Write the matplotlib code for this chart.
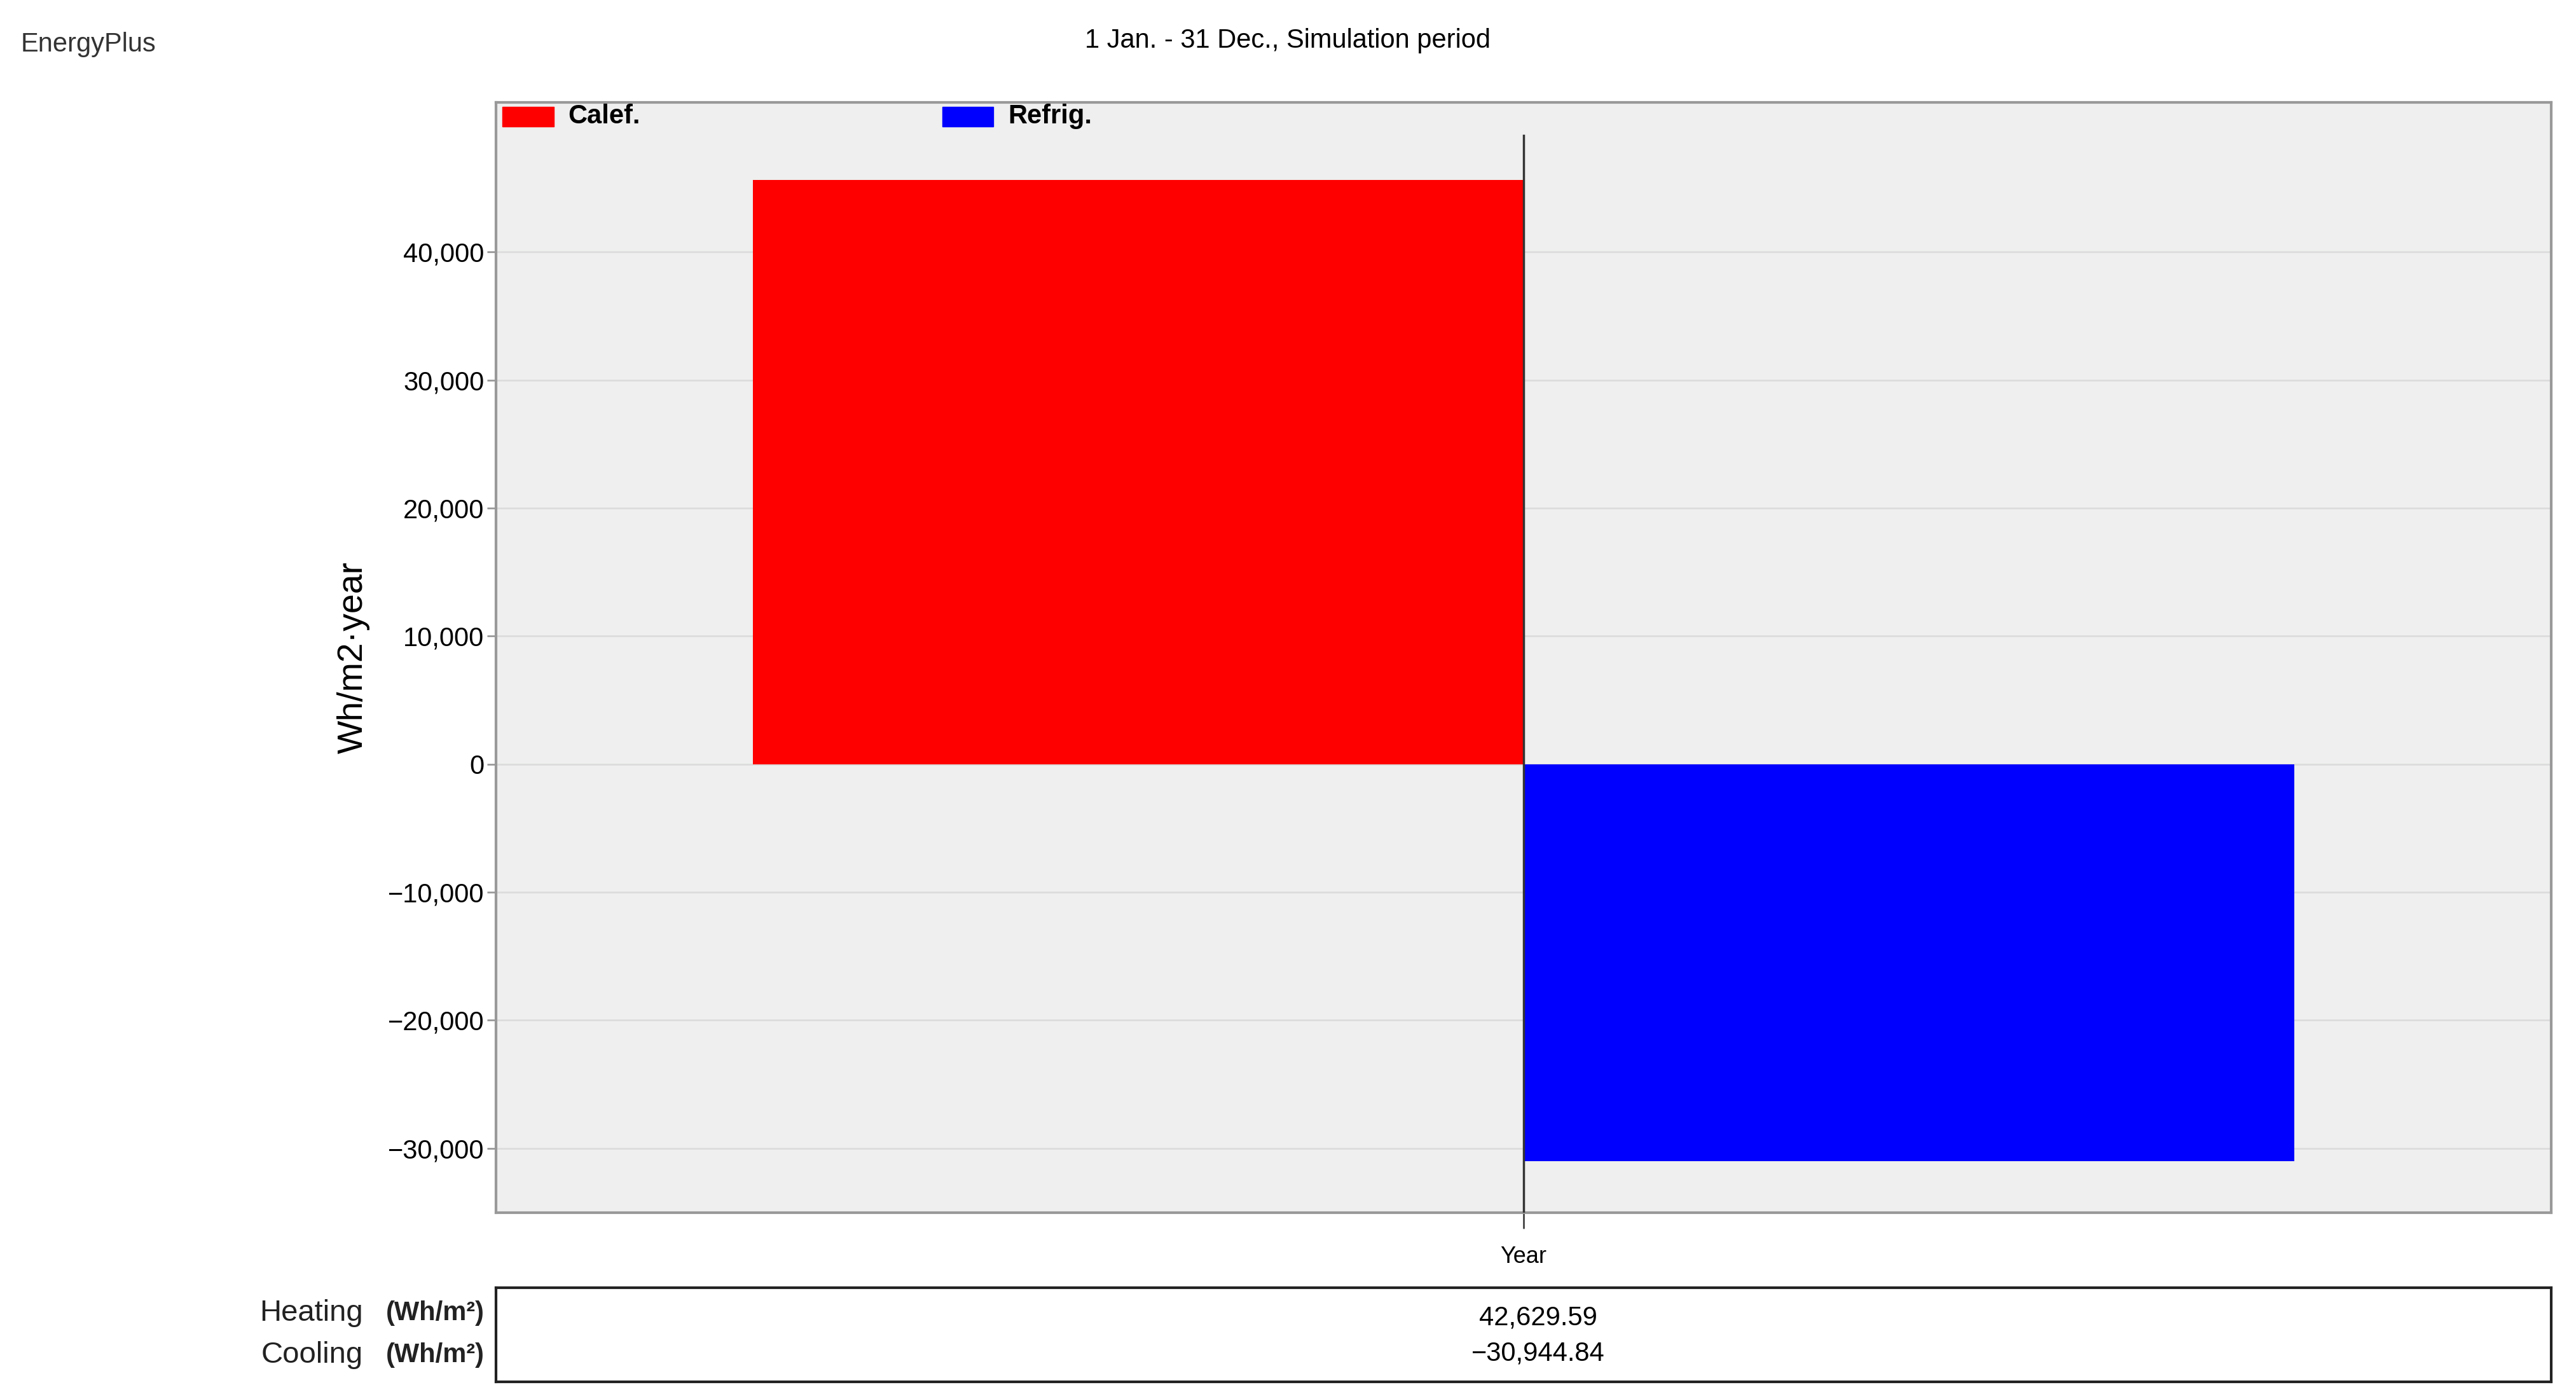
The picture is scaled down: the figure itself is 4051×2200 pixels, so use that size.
import matplotlib
matplotlib.use("Agg")
import matplotlib.pyplot as plt
from matplotlib.patches import Rectangle

categories = ["Year"]
series_names = ["Calef.", "Refrig."]
series_values = [45600, -31000]
series_colors = ["#ff0000", "#0000ff"]
yticks = [-30000, -20000, -10000, 0, 10000, 20000, 30000, 40000]
table_labels = ["Heating", "Cooling"]
table_units = ["(Wh/m²)", "(Wh/m²)"]
table_values = ["42,629.59", "\u221230,944.84"]

plt.rcParams['font.family'] = ['Liberation Sans', 'DejaVu Sans']
fig = plt.figure(figsize=(40.51, 22), dpi=100)
ax = fig.add_axes([0.1926, 0.1334, 0.7978, 0.7936])
ax.set_facecolor("#eeefee")
ax.set_xlim(-1, 1)
ax.set_ylim(-35000, 51700)
ax.bar([-0.375, 0.375], series_values, width=0.75, color=series_colors, zorder=3)
ax.set_yticks(yticks)
ax.set_yticklabels([f"{v:,}".replace("-", "\u2212") for v in yticks], fontsize=30)
ax.grid(axis='y', color="#dcdcdc", lw=2, zorder=0)
ax.set_xticks([0])
ax.set_xticklabels(categories, fontsize=26)
ax.tick_params(axis='x', length=18, width=2, color="#444444", pad=20)
ax.tick_params(axis='y', length=10, width=2, color="#999999")
ax.axvline(0, ymin=0, ymax=0.97, color="#333333", lw=2.5, zorder=4)
for s in ax.spines.values():
    s.set_color("#999999"); s.set_linewidth(3)
ax.set_ylabel("Wh/m2·year", fontsize=40, labelpad=20)

# legend
for i, (n, c) in enumerate(zip(series_names, series_colors)):
    x0 = 0.003 + i * 0.214
    ax.add_patch(Rectangle((x0, 0.978), 0.025, 0.018, transform=ax.transAxes, color=c, clip_on=False, zorder=5))
    ax.text(x0 + 0.032, 0.987, n, transform=ax.transAxes, fontsize=30, va='center', ha='left', fontweight='bold')

fig.text(0.008, 0.968, "EnergyPlus", fontsize=30, ha='left', va='center', color="#333333")
fig.text(0.5, 0.971, "1 Jan. - 31 Dec., Simulation period", fontsize=30, ha='center', va='center')

# table
tax = fig.add_axes([0.1926, 0.0124, 0.7978, 0.067])
tax.set_xticks([]); tax.set_yticks([])
for s in tax.spines.values():
    s.set_color("#222222"); s.set_linewidth(3)
for i, (lab, u, v) in enumerate(zip(table_labels, table_units, table_values)):
    y = 0.68 - i * 0.38
    tax.text(0.507, y, v, transform=tax.transAxes, fontsize=30, ha='center', va='center')
    fig.text(0.141, 0.0124 + 0.067 * (0.73 - i * 0.45), lab, fontsize=34, ha='right', va='center', color="#222222")
    fig.text(0.188, 0.0124 + 0.067 * (0.73 - i * 0.45), u, fontsize=30, ha='right', va='center', fontweight='bold', color="#222222")

fig.savefig("out.png", dpi=100, facecolor="white")
